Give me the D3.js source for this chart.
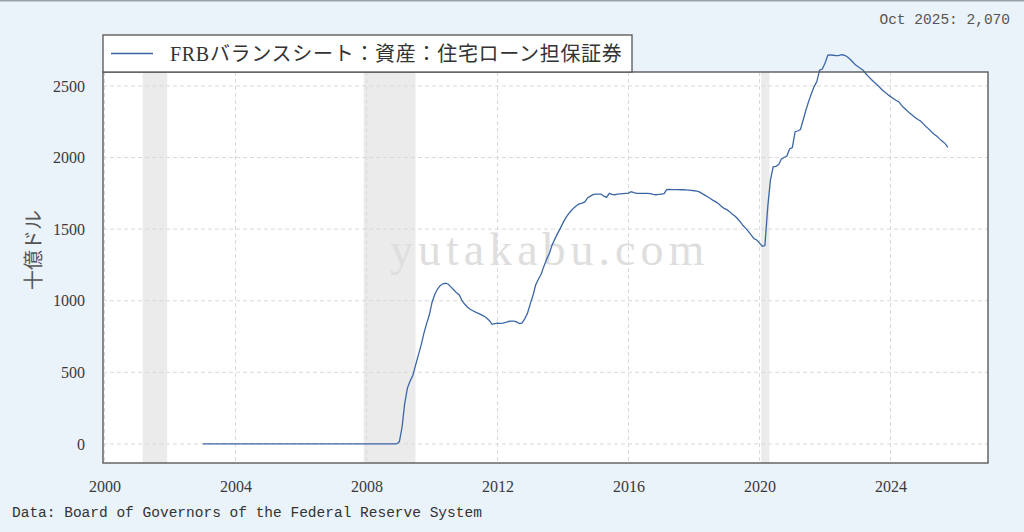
<!DOCTYPE html>
<html><head><meta charset="utf-8">
<script src="https://cdn.jsdelivr.net/npm/d3@7"></script>
<style>html,body{margin:0;padding:0;background:#eaf2fa;} svg{display:block}</style>
</head><body><svg id="c" width="1024" height="532"></svg>
<script>
// ---- data ----
const flatDates = ["2003-01", "2008-12"];
const flatValues = [0, 0];
const mbsStart = "2009-01";
const mbsValues = [
  15,120,280,390,440,480,550,620,690,770,840,900,
  990,1045,1080,1105,1118,1122,1115,1095,1075,1055,1040,1000,
  975,955,940,930,920,912,903,893,880,862,835,840,
  843,842,844,848,855,858,857,852,840,845,875,915,
  980,1040,1110,1150,1185,1240,1290,1330,1390,1430,1470,1505,
  1545,1580,1605,1628,1648,1665,1676,1682,1690,1718,1730,1741,
  1745,1745,1744,1730,1722,1750,1742,1740,1744,1746,1748,1750,
  1752,1762,1755,1750,1750,1750,1749,1750,1748,1742,1740,1742,
  1745,1748,1776,1777,1776,1776,1776,1775,1775,1774,1772,1770,
  1768,1765,1760,1748,1737,1726,1714,1701,1690,1677,1660,1645,
  1636,1622,1605,1591,1572,1550,1525,1505,1482,1458,1433,1424,
  1402,1380,1385,1650,1840,1935,1938,1950,1990,2000,2010,2060,
  2070,2180,2185,2195,2260,2330,2390,2445,2495,2530,2610,2618,
  2660,2715,2716,2714,2712,2712,2718,2714,2705,2690,2670,2650,
  2635,2622,2610,2585,2565,2545,2527,2510,2490,2472,2455,2440,
  2425,2412,2400,2390,2366,2345,2328,2310,2295,2280,2265,2255,
  2235,2215,2200,2180,2163,2148,2130,2113,2097,2070
];
const recessionStarts = ["2001-03-01", "2007-12-01", "2020-01-20"];
const recessionEnds   = ["2001-11-30", "2009-06-30", "2020-04-20"];
const yTicks = [0, 500, 1000, 1500, 2000, 2500];
const xTickYears = [2000, 2004, 2008, 2012, 2016, 2020, 2024];
const legendLabel = "FRBバランスシート：資産：住宅ローン担保証券";
const yLabel = "十億ドル";
const lastLabel = "Oct 2025: 2,070";
const sourceLabel = "Data: Board of Governors of the Federal Reserve System";
const watermark = "yutakabu.com";

// ---- build series ----
const pm = d3.timeParse("%Y-%m");
const pd = d3.timeParse("%Y-%m-%d");
const series = flatDates.map((d, i) => ({date: pm(d), value: flatValues[i]}));
const s0 = pm(mbsStart);
mbsValues.forEach((v, i) => series.push({date: d3.timeMonth.offset(s0, i), value: v}));

// ---- layout ----
const L = 103, R = 988, T = 72, B = 463;
const svg = d3.select("#c");
svg.append("rect").attr("x",0).attr("y",0).attr("width",1024).attr("height",532).attr("fill","#eaf2fa");
svg.append("rect").attr("x",0).attr("y",0).attr("width",1024).attr("height",1.5).attr("fill","#9aa1aa");

const x = d3.scaleTime().domain([new Date(1999,11,15), new Date(2026,11,23)]).range([L, R]);
const y = d3.scaleLinear().domain([-133, 2597]).range([B, T]);

svg.append("rect").attr("x",L).attr("y",T).attr("width",R-L).attr("height",B-T).attr("fill","#fff");

const plot = svg.append("g");
plot.selectAll("rect.rec").data(recessionStarts).enter().append("rect")
  .attr("x", (d) => x(pd(d)))
  .attr("width", (d, i) => x(pd(recessionEnds[i])) - x(pd(d)))
  .attr("y", T).attr("height", B - T).attr("fill", "#ebebeb");

// grid
plot.selectAll("line.gy").data(yTicks).enter().append("line")
  .attr("x1", L).attr("x2", R).attr("y1", d => y(d)).attr("y2", d => y(d))
  .attr("stroke", "#d9d9d9").attr("stroke-dasharray", "4,3").attr("stroke-width", 1);
plot.selectAll("line.gx").data(xTickYears).enter().append("line")
  .attr("y1", T).attr("y2", B).attr("x1", d => x(new Date(d,0,1))).attr("x2", d => x(new Date(d,0,1)))
  .attr("stroke", "#d9d9d9").attr("stroke-dasharray", "4,3").attr("stroke-width", 1);

// watermark
svg.append("text").attr("x", 390).attr("y", 265).text(watermark)
  .style("font-family", "'Liberation Serif'").style("font-size", "46px").attr("letter-spacing", 5)
  .attr("fill", "#dedede");

// line
svg.append("path").datum(series)
  .attr("d", d3.line().x(d => x(d.date)).y(d => y(d.value)))
  .attr("fill", "none").attr("stroke", "#3b66a6").attr("stroke-width", 1.3);

// frame
svg.append("rect").attr("x",L).attr("y",T).attr("width",R-L).attr("height",B-T)
  .attr("fill","none").attr("stroke","#5a5a5a").attr("stroke-width",1.4);

// axes labels
const yAxis = d3.axisLeft(y).tickValues(yTicks).tickSize(0).tickPadding(18).tickFormat(d3.format("d"));
const gy = svg.append("g").attr("transform", `translate(${L},0)`).call(yAxis);
gy.select(".domain").remove();
gy.attr("font-family", null).attr("font-size", null);
gy.selectAll("text").style("font-family","'Liberation Serif'").style("font-size","16px").attr("fill","#3a3a3a");

const xAxis = d3.axisBottom(x).tickValues(xTickYears.map(v => new Date(v,0,1))).tickSize(0).tickPadding(18).tickFormat(d3.timeFormat("%Y"));
const gx = svg.append("g").attr("transform", `translate(0,${B})`).call(xAxis);
gx.select(".domain").remove();
gx.attr("font-family", null).attr("font-size", null);
gx.selectAll("text").style("font-family","'Liberation Serif'").style("font-size","16px").attr("fill","#3a3a3a");

svg.append("text").attr("transform","translate(41,250) rotate(-90)").attr("text-anchor","middle")
  .style("font-family","'Noto Sans CJK JP'").style("font-size","20px").attr("fill","#555").text(yLabel);

// legend
svg.append("rect").attr("x",L).attr("y",35).attr("width",529).attr("height",37)
  .attr("fill","#fff").attr("stroke","#555").attr("stroke-width",1.3);
svg.append("line").attr("x1",111).attr("x2",153).attr("y1",53.5).attr("y2",53.5)
  .attr("stroke","#3b66a6").attr("stroke-width",1.3);
svg.append("text").attr("x",170).attr("y",61).text(legendLabel)
  .style("font-family","'Liberation Serif','Noto Sans CJK JP'").style("font-size","20px")
  .attr("letter-spacing", 0.7).attr("fill","#333");

svg.append("text").attr("x",1010).attr("y",24).attr("text-anchor","end").text(lastLabel)
  .style("font-family","'Liberation Mono'").style("font-size","14.5px").attr("fill","#555");
svg.append("text").attr("x",12).attr("y",517).text(sourceLabel)
  .style("font-family","'Liberation Mono'").style("font-size","14.5px").attr("fill","#333");
</script></body></html>
